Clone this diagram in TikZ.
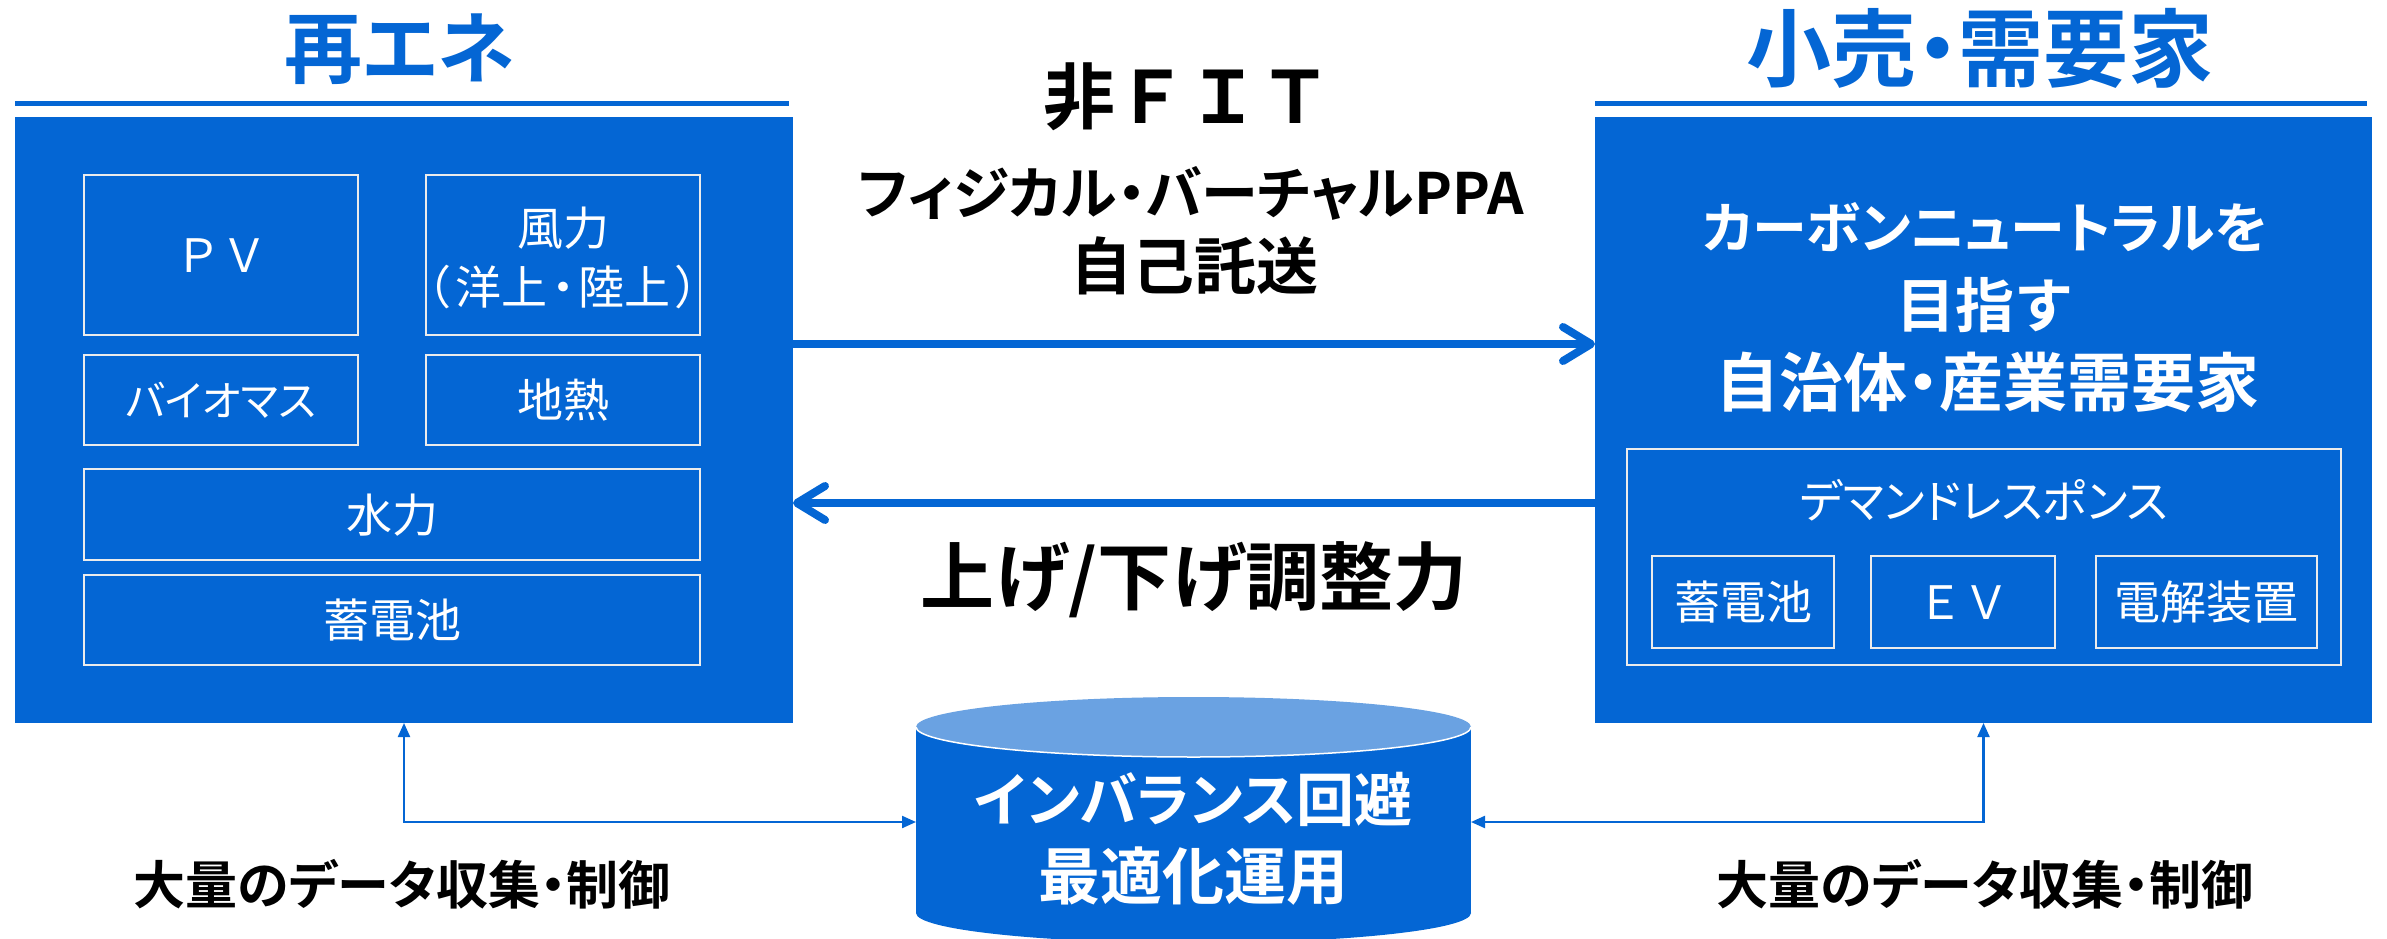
\documentclass[tikz,border=0pt]{standalone}
\usepackage{fontspec}
\usetikzlibrary{arrows.meta}
\newfontfamily\jpr[RawFeature=+palt]{Noto Sans CJK JP}
\newfontfamily\jprw{Noto Sans CJK JP}
\newfontfamily\jpb[RawFeature=+palt]{Noto Sans CJK JP Bold}
\newfontfamily\jpbw{Noto Sans CJK JP Bold}
\definecolor{mainblue}{RGB}{4,102,212}
\definecolor{lightblue}{RGB}{106,162,226}
\definecolor{edgegray}{RGB}{236,236,236}
\begin{document}
\begin{tikzpicture}[x=1pt,y=-1pt,
 every node/.style={inner sep=0pt, outer sep=0pt},
 bigbox/.style={fill=mainblue, draw=none, rectangle},
 ibox/.style={draw=edgegray, line width=2.5pt, fill=mainblue, rectangle},
 wlab/.style={font=\jpr\fontsize{46}{50}\selectfont, text=white, text height=40.5pt, text depth=5.5pt},
 wlabk/.style={font=\jpr\fontsize{42}{46}\selectfont, text=white, text height=37pt, text depth=5pt},
 wlabw/.style={font=\jprw\fontsize{46}{50}\selectfont, text=white, text height=40.5pt, text depth=5.5pt},
 ttl/.style={font=\jpb\fontsize{78}{80}\selectfont, text=mainblue, text height=68.6pt, text depth=9.4pt},
 ttlb/.style={font=\jpb\fontsize{85}{87}\selectfont, text=mainblue, text height=74.8pt, text depth=10.2pt},
 hfit/.style={font=\jpbw\fontsize{72}{74}\selectfont, text=black, text height=63.4pt, text depth=8.6pt},
 hsub/.style={font=\jpb\fontsize{57}{59}\selectfont, text=black, text height=50.2pt, text depth=6.8pt},
 hsubb/.style={font=\jpb\fontsize{62}{64}\selectfont, text=black, text height=54.6pt, text depth=7.4pt},
 adj/.style={font=\jpb\fontsize{74}{76}\selectfont, text=black, text height=65.1pt, text depth=8.9pt},
 rtxt/.style={font=\jpb\fontsize{55}{57}\selectfont, text=white, text height=48.4pt, text depth=6.6pt},
 rtxtw/.style={font=\jpbw\fontsize{59}{61}\selectfont, text=white, text height=51.9pt, text depth=7.1pt},
 rtxtb/.style={font=\jpb\fontsize{64}{66}\selectfont, text=white, text height=56.3pt, text depth=7.7pt},
 cyltxt/.style={font=\jpb\fontsize{58}{60}\selectfont, text=white, text height=51pt, text depth=7pt},
 cyltxtb/.style={font=\jpb\fontsize{62}{64}\selectfont, text=white, text height=54.6pt, text depth=7.4pt},
 blab/.style={font=\jpb\fontsize{52}{54}\selectfont, text=black, text height=45.8pt, text depth=6.2pt},
 titleline/.style={draw=mainblue, line width=5pt},
 bigarrow/.style={draw=mainblue, line width=8pt, -{Straight Barb[length=28pt, width=34pt, round]}},
 conn/.style={draw=mainblue, line width=2.2pt, {Triangle[length=14pt,width=12pt]}-{Triangle[length=14pt,width=12pt]}}
]
\useasboundingbox (0,0) rectangle (2387,939);
\clip (0,0) rectangle (2387,939);
\fill[white] (0,0) rectangle (2387,939);

% titles
\node[ttl] (ttlL) at (400,48) {再エネ};
\node[ttlb] (ttlR) at (1980,48) {小売・需要家};
\draw[titleline] (15,103.5) -- (789,103.5);
\draw[titleline] (1595,103.5) -- (2367,103.5);

% main boxes
\node[bigbox, minimum width=778pt, minimum height=606pt] (renebox) at (404,420) {};
\node[bigbox, minimum width=777pt, minimum height=606pt] (demandbox) at (1983.5,420) {};

% left inner boxes
\node[ibox, wlabw, minimum width=274pt, minimum height=160pt] (pv) at (221,255) {ＰＶ};
\node[ibox, minimum width=274pt, minimum height=160pt] (wind) at (563,255) {};
\node[wlab] (windA) at (563,228) {風力};
\node[wlab] (windB) at (563,287) {（\kern6pt 洋上\kern4pt・\kern4pt 陸上\kern6pt）};
\node[ibox, wlabk, minimum width=274pt, minimum height=90pt] (bio) at (221,400) {バイオマス};
\node[ibox, wlab, minimum width=274pt, minimum height=90pt] (geo) at (563,400) {地熱};
\node[ibox, wlab, minimum width=616pt, minimum height=91pt] (hydro) at (392,514.5) {水力};
\node[ibox, wlab, minimum width=616pt, minimum height=90pt] (batt) at (392,620) {蓄電池};

% right texts
\node[rtxt] (rt1) at (1985,228) {カーボンニュートラルを};
\node[rtxtw] (rt2) at (1985,305) {目指す};
\node[rtxtb] (rt3) at (1987,382.5) {自治体・産業需要家};
\node[ibox, minimum width=714pt, minimum height=216pt] (drbox) at (1984,557) {};
\node[wlab] (drtxt) at (1984,501) {デマンドレスポンス};
\node[ibox, wlab, minimum width=182pt, minimum height=92pt] (sbatt) at (1743,602) {蓄電池};
\node[ibox, wlabw, minimum width=184pt, minimum height=92pt] (ev) at (1963,602) {ＥＶ};
\node[ibox, wlab, minimum width=221pt, minimum height=92pt] (elec) at (2206.5,602) {電解装置};

% middle texts
\node[hfit] (fit) at (1187,96) {非ＦＩＴ};
\node[hsub] (ppa) at (1191,193) {フィジカル・バーチャルPPA};
\node[hsubb] (jiko) at (1194,266) {自己託送};
\node[adj] (adjtxt) at (1194,576) {上げ/下げ調整力};

% big arrows
\draw[bigarrow] (renebox.east |- 0,344) -- (demandbox.west |- 0,344);
\draw[bigarrow] (demandbox.west |- 0,503) -- (renebox.east |- 0,503);

% cylinder
\fill[mainblue] (916,727) rectangle (1471,913);
\fill[mainblue] (1193.5,913) ellipse [x radius=277.5, y radius=30];
\fill[lightblue] (1193.5,727) ellipse [x radius=277.5, y radius=30];
\draw[white, line width=1.5pt] (916,727) arc[start angle=180, end angle=0, x radius=277.5, y radius=30];
\node[minimum width=555pt, minimum height=186pt] (cyl) at (1193.5,822) {};
\node[cyltxt] (cyl1) at (1193.5,799) {インバランス回避};
\node[cyltxtb] (cyl2) at (1193.5,876) {最適化運用};

% connectors
\draw[conn] (renebox.south) |- (cyl.west);
\draw[conn] (demandbox.south) |- (cyl.east);

% bottom labels
\node[blab] (blabL) at (402,885) {大量のデータ収集・制御};
\node[blab] (blabR) at (1985,885) {大量のデータ収集・制御};
\end{tikzpicture}
\end{document}
